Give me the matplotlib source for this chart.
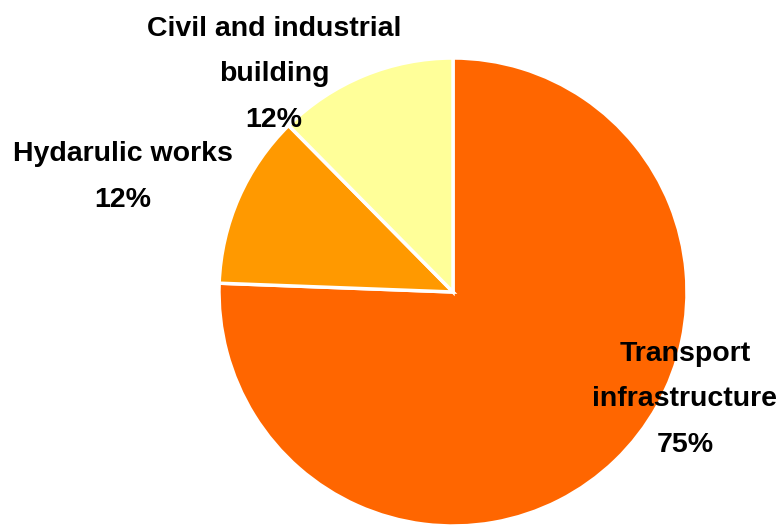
import matplotlib
matplotlib.use("Agg")
import matplotlib.pyplot as plt

# Data
categories = ["Transport\ninfrastructure", "Hydarulic works", "Civil and industrial\nbuilding"]
shares = [75.6, 12.0, 12.4]
pct_labels = ["75%", "12%", "12%"]
colors = ["#FF6600", "#FF9900", "#FFFF99"]

# label anchors (pixel-like coords, baseline of the last line)
label_pos = [(685, 452), (123, 207), (274, 127)]

W, H = 779, 525
fig = plt.figure(figsize=(W / 100, H / 100), dpi=100)
ax = fig.add_axes([0, 0, 1, 1])

ax.pie(shares, colors=colors, startangle=90, counterclock=False,
       center=(453, H - 292), radius=234, frame=True,
       wedgeprops=dict(edgecolor="white", linewidth=2.5))
ax.set_xlim(0, W)
ax.set_ylim(0, H)
ax.set_aspect("equal")
ax.axis("off")

for name, pct, (x, y) in zip(categories, pct_labels, label_pos):
    ax.text(x, H - y, name + "\n" + pct, ha="center", va="baseline",
            multialignment="center", fontsize=20.5, fontweight="bold",
            family="Liberation Sans", linespacing=1.98, color="black")

fig.savefig("out.png", dpi=100)
